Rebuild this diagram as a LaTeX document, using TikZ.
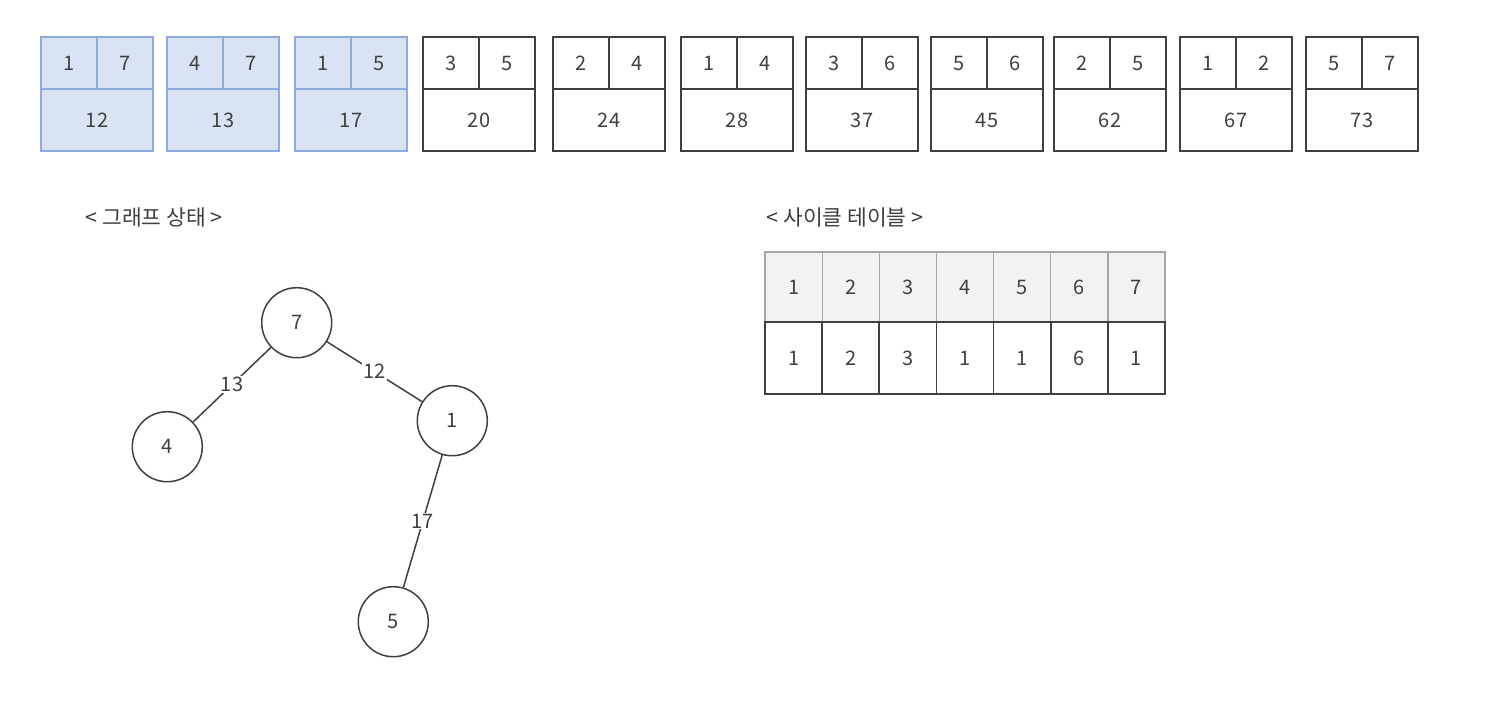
\documentclass[tikz,border=0pt]{standalone}
\usepackage{fontspec}
\setmainfont{Noto Sans CJK KR}
\definecolor{bfill}{HTML}{DAE3F3}
\definecolor{bdraw}{HTML}{8FAADC}
\definecolor{ink}{HTML}{404040}
\definecolor{hfill}{HTML}{F2F2F2}
\definecolor{hdraw}{HTML}{A6A6A6}
\tikzset{
  txt/.style={font=\fontsize{20}{24}\selectfont, text=ink},
  cellbase/.style={txt, inner sep=0pt, outer sep=0pt, line width=1.6pt},
  blue/.style={cellbase, draw=bdraw, fill=bfill},
  plain/.style={cellbase, draw=ink, fill=white},
  topc/.style={minimum width=56pt, minimum height=52pt},
  botc/.style={minimum width=112pt, minimum height=62pt},
  hcell/.style={txt, draw=hdraw, fill=hfill, line width=1.3pt, outer sep=0pt, minimum width=57.14pt, minimum height=70pt, inner sep=0pt},
  vcell/.style={txt, draw=ink, fill=white, line width=1.6pt, outer sep=0pt, minimum width=57.14pt, minimum height=72pt, inner sep=0pt},
  vertex/.style={txt, circle, draw=ink, line width=1.5pt, minimum size=70pt, inner sep=0pt},
  edge/.style={draw=ink, line width=1.5pt},
  elabel/.style={txt, fill=white, inner sep=1pt, midway},
  title/.style={txt, font=\fontsize{21.5}{24}\selectfont, anchor=west}
}
\begin{document}
\begin{tikzpicture}[x=1pt,y=-1pt]
\useasboundingbox[fill=white] (0,0) rectangle (1504,704);
% edge boxes
\foreach \x/\a/\b/\w/\s [count=\i] in {41/1/7/12/blue,167/4/7/13/blue,295/1/5/17/blue,423/3/5/20/plain,553/2/4/24/plain,681/1/4/28/plain,806/3/6/37/plain,931/5/6/45/plain,1054/2/5/62/plain,1180/1/2/67/plain,1306/5/7/73/plain}{
  \node[\s, botc, anchor=north west] (w\i) at (\x,89) {\w};
  \node[\s, topc, anchor=south west] (a\i) at (\x,89) {\a};
  \node[\s, topc, anchor=south east] (b\i) at (\x+112,89) {\b};
}
% titles
\node[title] (t1) at (82,217) {< 그래프 상태 >};
\node[title] (t2) at (763,217) {< 사이클 테이블 >};
% cycle table
\foreach \i in {1,...,7}{
  \node[hcell, anchor=south west] (h\i) at ({765+(\i-1)*57.14},322) {\i};
}
\foreach \v [count=\i] in {1,2,3,1,1,6,1}{
  \node[vcell, anchor=north west] (v\i) at ({765+(\i-1)*57.14},322) {\v};
}
% graph
\node[vertex] (n7) at (296.7,322.7) {7};
\node[vertex] (n4) at (167.3,446.7) {4};
\node[vertex] (n1) at (452.3,420.7) {1};
\node[vertex] (n5) at (393.3,621.7) {5};
\draw[edge] (n7) -- node[elabel] {13} (n4);
\draw[edge] (n7) -- node[elabel] {12} (n1);
\draw[edge] (n1) -- node[elabel] {17} (n5);
\end{tikzpicture}
\end{document}
